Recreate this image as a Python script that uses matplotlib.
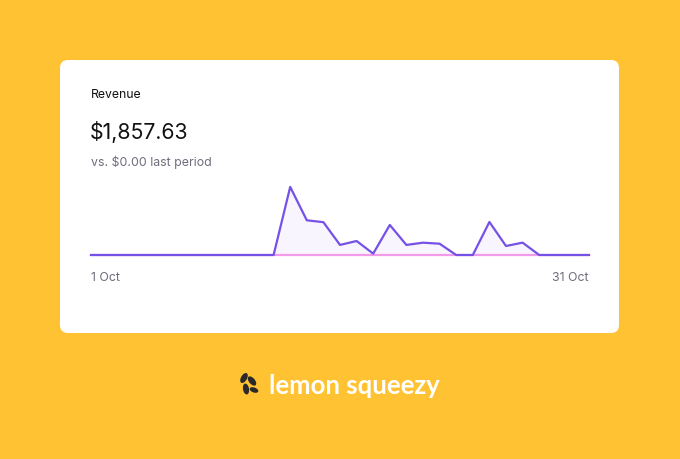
import matplotlib.pyplot as plt
from matplotlib.patches import FancyBboxPatch, Ellipse

# daily revenue, 1-31 Oct
days = list(range(1, 32))
revenue = [0, 0, 0, 0, 0, 0, 0, 0, 0, 0, 0,
           0, 453.20, 231.10, 218.40, 67.00, 93.30, 9.00, 200.15, 67.00,
           82.00, 75.18, 0, 0, 220.00, 60.00, 82.30, 0, 0, 0, 0]
previous = [0] * 31
tick_labels = ["1 Oct", "31 Oct"]

W, H = 680, 460
YELLOW = "#FFC233"
PURPLE = "#7651E6"
PINK = "#F29BEA"
GREY = "#6E6E7D"

fig = plt.figure(figsize=(W / 100, H / 100), dpi=100, facecolor=YELLOW)

# background layer in pixel coords
bg = fig.add_axes([0, 0, 1, 1])
bg.set_xlim(0, W)
bg.set_ylim(H, 0)
bg.axis("off")

card = FancyBboxPatch((60, 61), 559, 273, boxstyle="round,pad=0,rounding_size=8",
                      facecolor="white", edgecolor="none")
bg.add_patch(card)

bg.text(91, 95, "Revenue", fontsize=8.8, color="#111111", va="center", family="Inter")
bg.text(90, 132, "$1,857.63", fontsize=15.3, color="#111111", va="center", family="Inter")
bg.text(91, 162, "vs. $0.00 last period", fontsize=8.9, color=GREY, va="center", family="Inter")

# logo: petals + wordmark
for dx, dy, w, h, ang in [(-4, -6, 6, 11, 30), (4, -3, 6, 11, -40), (-2, 5, 6, 11, -10), (6, 6, 5, 9, -70)]:
    bg.add_patch(Ellipse((248 + dx, 385 + dy), w, h, angle=ang, facecolor="#2A2A2A"))
bg.text(269, 386, "lemon squeezy", fontsize=18.5, fontweight="bold", color="white",
        va="center", family="Lato")

# chart area: x 91..589, baseline at y=256
ax_h = 76
ax = fig.add_axes([91 / W, (H - 256) / H, (589 - 91) / W, ax_h / H])
ax.set_xlim(days[0], days[-1])
ax.set_ylim(0, 506)
ax.axis("off")

ax.fill_between(days, revenue, 0, color="#F8F5FE", zorder=1)
ax.plot(days, previous, color=PINK, lw=1.6, zorder=2, clip_on=False)
ax.plot(days, revenue, color=PURPLE, lw=1.6, zorder=3, clip_on=False)

bg.text(91, 278, tick_labels[0], fontsize=8.9, color=GREY, va="center", ha="left", family="Inter")
bg.text(589, 278, tick_labels[1], fontsize=8.9, color=GREY, va="center", ha="right", family="Inter")

fig.savefig("out.png", dpi=100, facecolor=YELLOW)
